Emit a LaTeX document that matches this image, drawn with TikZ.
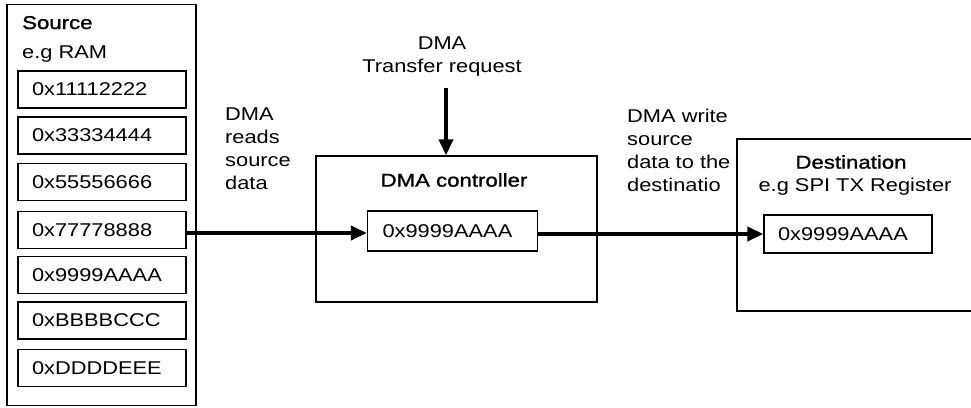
\documentclass[tikz,border=0pt]{standalone}
\usepackage{fontspec}
\setmainfont{Liberation Sans}[FakeStretch=1.18]
\newfontfamily\hdrfont{Liberation Sans}[FakeStretch=1.2, FakeBold=1.2]
\usetikzlibrary{arrows.meta}
\begin{document}
\begin{tikzpicture}[x=1pt,y=-1pt,
  every node/.style={font=\fontsize{18.5}{23}\selectfont, inner sep=0pt},
  frame/.style={draw, line width=1.4pt, fill=white},
  membox/.style={draw, line width=1.4pt, minimum height=37pt, text width=140pt,
    inner xsep=14pt, align=left},
  regbox/.style={draw, line width=1.4pt, minimum height=40pt, text width=140pt,
    inner xsep=15pt, align=left},
  hdr/.style={font=\fontsize{18.5}{23}\selectfont\hdrfont},
  lbl/.style={align=left, anchor=north west},
  arr/.style={line width=3.8pt, -{Triangle[length=16pt,width=14pt]}}]
\useasboundingbox (0,0) rectangle (971,407);
\clip (0,0) rectangle (971,407);
% source
\node[frame, minimum width=189pt, minimum height=401pt] (src) at (101.5,205) {};
\node[hdr, anchor=base west] (srct) at (22,29) {Source};
\node[anchor=base west] (srcs) at (22,58) {e.g RAM};
\node[membox] (m1) at (102,89.5) {0x11112222};
\node[membox] (m2) at (102,135.5) {0x33334444};
\node[membox] (m3) at (102,182) {0x55556666};
\node[membox] (m4) at (102,230) {0x77778888};
\node[membox] (m5) at (102,275) {0x9999AAAA};
\node[membox] (m6) at (102,320.5) {0xBBBBCCC};
\node[membox] (m7) at (102,368) {0xDDDDEEE};
% controller
\node[frame, minimum width=281pt, minimum height=146pt] (ctrl) at (456.5,229) {};
\node[hdr] (ctrlt) at (454,180) {DMA controller};
\node[regbox] (creg) at (452.5,231) {0x9999AAAA};
% destination (runs off the right edge)
\node[frame, minimum width=260pt, minimum height=172pt] (dst) at (867,225) {};
\node[hdr] (dstt) at (851,162) {Destination};
\node (dsts) at (855,187) {e.g SPI TX Register};
\node[draw, line width=1.4pt, minimum height=38pt, text width=140pt, inner xsep=14pt, align=left] (dreg) at (848,234) {0x9999AAAA};
% request
\node[align=center] (req) at (442,57) {DMA\\Transfer request};
\coordinate (reqend) at (446,88);
\draw[arr] (reqend) -- (reqend |- ctrl.north);
% transfer arrows
\draw[arr] (m4.east |- 0,233) -- (creg.west |- 0,233);
\draw[arr] (creg.east |- 0,234) -- (dreg.west |- 0,234);
% labels
\node[lbl] (rd) at (225,108) {DMA\\reads\\source\\data};
\node[lbl] (wr) at (627,109) {DMA write\\source\\data to the\\destinatio};
\end{tikzpicture}
\end{document}
